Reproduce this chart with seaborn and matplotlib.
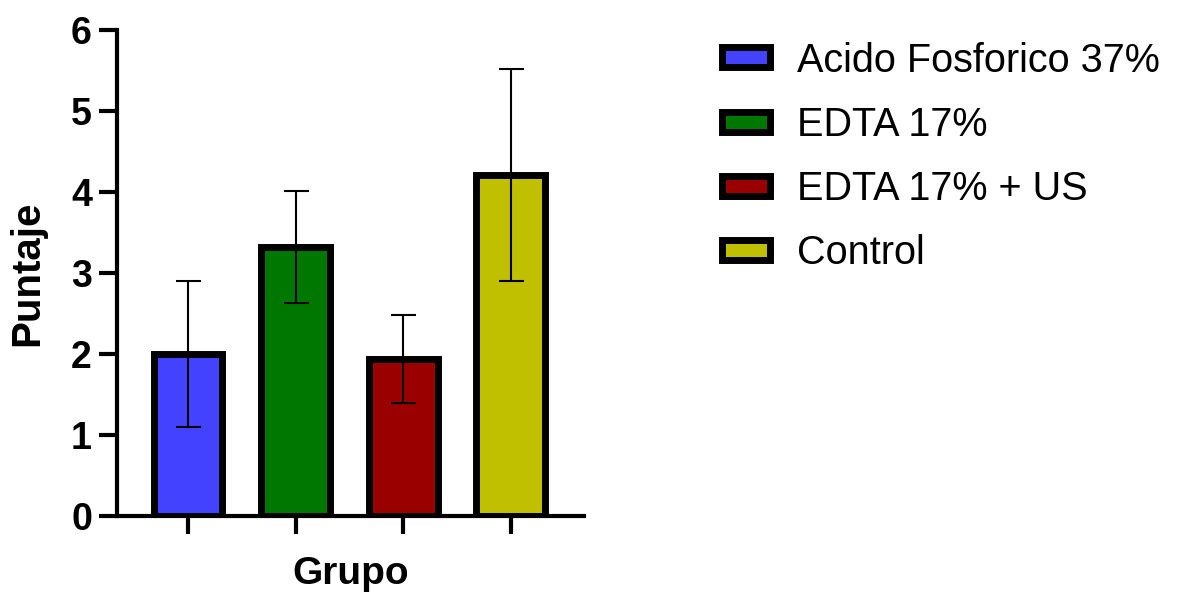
import matplotlib
matplotlib.use("Agg")
import matplotlib.pyplot as plt
import matplotlib.patches as mpatches
import seaborn as sns
import pandas as pd

# datos
grupos = ["Acido Fosforico 37%", "EDTA 17%", "EDTA 17% + US", "Control"]
medias = [2.0, 3.32, 1.94, 4.21]
errores = [0.90, 0.69, 0.54, 1.31]
colores = ["#4242FF", "#007800", "#9A0000", "#C0C000"]

df = pd.DataFrame({"Grupo": grupos, "Puntaje": medias})

sns.set_style("ticks")
plt.rcParams["font.family"] = ["Liberation Sans", "DejaVu Sans"]
plt.rcParams.update({"text.color": "black", "axes.labelcolor": "black",
                     "xtick.color": "black", "ytick.color": "black",
                     "axes.edgecolor": "black"})

fig = plt.figure(figsize=(11.78, 5.94), dpi=100)
ax = fig.add_axes([0.0993, 0.1313, 0.3963, 0.8182])

sns.barplot(data=df, x="Grupo", y="Puntaje", hue="Grupo", order=grupos,
            hue_order=grupos, palette=colores, saturation=1, width=0.64,
            dodge=False, edgecolor="black", linewidth=5, errorbar=None,
            legend=False, ax=ax)

ax.errorbar(x=range(len(grupos)), y=medias, yerr=errores, fmt="none",
            ecolor="black", elinewidth=1.5, capsize=9, capthick=1.5, zorder=5)

ax.set_ylim(0, 6)
ax.set_xlim(-0.66, 3.68)
ax.set_yticks(range(0, 7))
ax.set_xticks(range(len(grupos)))
ax.set_xticklabels([])
sns.despine(ax=ax)
for s in ["left", "bottom"]:
    ax.spines[s].set_linewidth(3)
ax.tick_params(axis="both", width=3, length=13, labelsize=27, pad=5)
for lbl in ax.get_yticklabels():
    lbl.set_fontweight("bold")

ax.set_xlabel("Grupo", fontsize=28, fontweight="bold", labelpad=11)
ax.set_ylabel("Puntaje", fontsize=29, fontweight="bold", labelpad=18)

handles = [mpatches.Patch(facecolor=c, edgecolor="black", linewidth=5) for c in colores]
fig.legend(handles, grupos, loc="upper left", bbox_to_anchor=(0.613, 0.93),
           frameon=False, fontsize=28.5, handlelength=1.2, handleheight=0.4,
           handletextpad=0.7, labelspacing=0.66, borderpad=0, borderaxespad=0)

fig.savefig("out.png", dpi=100)
